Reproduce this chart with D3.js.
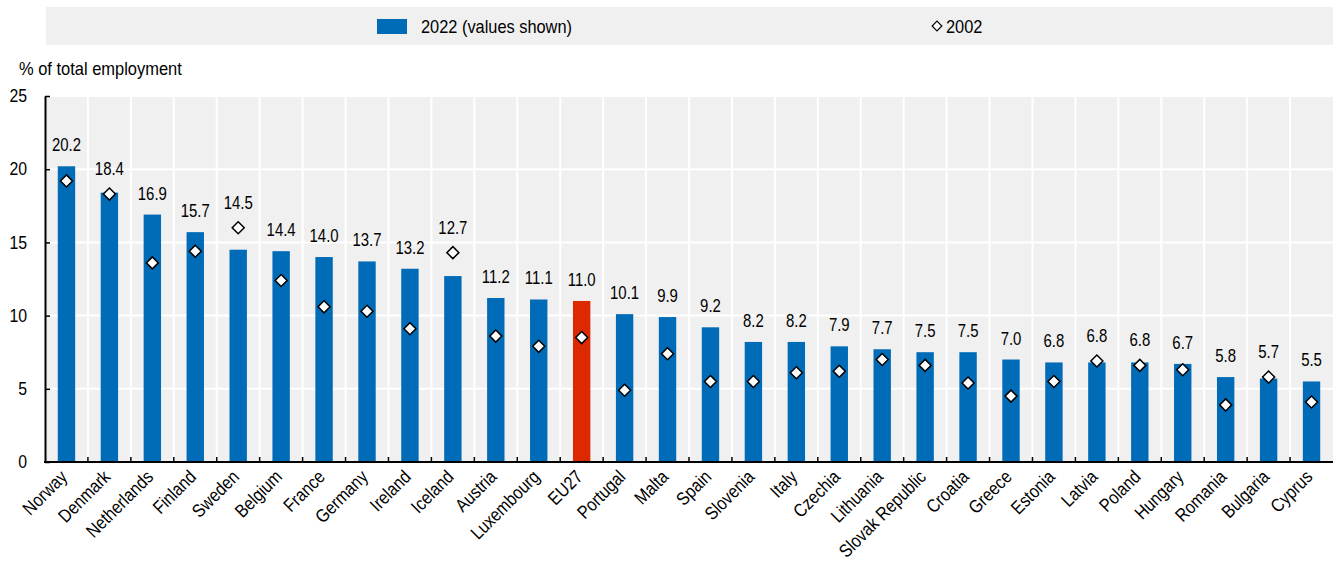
<!DOCTYPE html>
<html><head><meta charset="utf-8">
<script src="https://cdn.jsdelivr.net/npm/d3@7"></script>
<style>
body{margin:0;background:#fff;}
svg text{font-family:"Liberation Sans",Arial,sans-serif;fill:#000;}
</style></head>
<body>
<svg id="c" width="1338" height="562"></svg>
<script>
const countries = ["Norway","Denmark","Netherlands","Finland","Sweden","Belgium","France","Germany","Ireland","Iceland","Austria","Luxembourg","EU27","Portugal","Malta","Spain","Slovenia","Italy","Czechia","Lithuania","Slovak Republic","Croatia","Greece","Estonia","Latvia","Poland","Hungary","Romania","Bulgaria","Cyprus"];
const values2022 = [20.2,18.4,16.9,15.7,14.5,14.4,14.0,13.7,13.2,12.7,11.2,11.1,11.0,10.1,9.9,9.2,8.2,8.2,7.9,7.7,7.5,7.5,7.0,6.8,6.8,6.8,6.7,5.8,5.7,5.5];
const values2002 = [19.2,18.3,13.6,14.4,16.0,12.4,10.6,10.3,9.1,14.3,8.6,7.9,8.5,4.9,7.4,5.5,5.5,6.1,6.2,7.0,6.6,5.4,4.5,5.5,6.9,6.6,6.3,3.9,5.8,4.1];
const yTicks = [0,5,10,15,20,25];
const highlight = "EU27";
const legendLabels = ["2022 (values shown)","2002"];
const yTitle = "% of total employment";

const svg = d3.select("#c");
const L = 45, R = 1333, T = 96, B = 462;
const blue = "#006bb6", red = "#dc2900", bg = "#f0f0f0";

const x = d3.scaleBand().domain(countries).range([L, R]).padding(0);
const y = d3.scaleLinear().domain([0, 25]).range([B, T]);
const bw = x.bandwidth() * 0.405;

// texts drawn in a horizontally condensed face (reference uses a narrow sans)
function txt(g, tx, ty, s, fs, sx, anchor, rot) {
  return g.append("text")
    .attr("transform", `translate(${tx},${ty})${rot ? ` rotate(${rot})` : ""} scale(${sx},1)`)
    .attr("font-size", fs).attr("text-anchor", anchor || "start").text(s);
}

// legend
svg.append("rect").attr("x", 46).attr("y", 7).attr("width", R - 46).attr("height", 38).attr("fill", bg);
svg.append("rect").attr("x", 377).attr("y", 19).attr("width", 30).attr("height", 15).attr("fill", blue);
txt(svg, 421, 33, legendLabels[0], 18, 0.91);
svg.append("path").attr("d", d3.symbol(d3.symbolDiamond2, 60)()).attr("transform", "translate(937,26)")
  .attr("fill", "#fff").attr("stroke", "#000").attr("stroke-width", 1.2);
txt(svg, 946, 33, legendLabels[1], 18, 0.91);

// y title
txt(svg, 19, 75, yTitle, 18.5, 0.89);

// plot bg
svg.append("rect").attr("x", L).attr("y", T).attr("width", R - L).attr("height", B - T).attr("fill", bg);

// gridlines
svg.append("g").selectAll("line").data(yTicks.slice(1)).join("line")
  .attr("x1", L).attr("x2", R).attr("y1", d => y(d)).attr("y2", d => y(d))
  .attr("stroke", "#fff").attr("stroke-width", 2);
svg.append("g").selectAll("line").data(countries.slice(1)).join("line")
  .attr("x1", d => x(d)).attr("x2", d => x(d)).attr("y1", T).attr("y2", B)
  .attr("stroke", "#fff").attr("stroke-width", 2);

// bars
svg.append("g").selectAll("rect").data(countries).join("rect")
  .attr("x", d => x(d) + (x.bandwidth() - bw) / 2)
  .attr("width", bw)
  .attr("y", (d, i) => y(values2022[i]))
  .attr("height", (d, i) => B - y(values2022[i]))
  .attr("fill", d => d === highlight ? red : blue);

// diamonds
svg.append("g").selectAll("path").data(countries).join("path")
  .attr("d", d3.symbol(d3.symbolDiamond2, 92)())
  .attr("transform", (d, i) => `translate(${x(d) + x.bandwidth() / 2},${y(values2002[i])})`)
  .attr("fill", "#fff").attr("stroke", "#000").attr("stroke-width", 1.5);

// value labels
const vl = svg.append("g");
countries.forEach((d, i) => {
  txt(vl, x(d) + x.bandwidth() / 2, Math.min(y(values2022[i]), y(values2002[i]) - 4) - 15,
      d3.format(".1f")(values2022[i]), 18, 0.83, "middle");
});

// y axis
const ya = svg.append("g").attr("transform", `translate(${L},0)`)
  .call(d3.axisLeft(y).tickValues(yTicks).tickSizeInner(-5).tickSizeOuter(0).tickPadding(22).tickFormat(d3.format("d")));
ya.select(".domain").attr("stroke", "#000").attr("stroke-width", 2);
ya.selectAll(".tick line").attr("stroke", "#000").attr("stroke-width", 1.5);
ya.selectAll("text").attr("font-size", 18).attr("font-family", null)
  .attr("transform", "scale(0.88,1)").attr("x", -18 / 0.88);

// x axis
svg.append("g").selectAll("line").data(countries.slice(1)).join("line")
  .attr("x1", d => x(d)).attr("x2", d => x(d)).attr("y1", B).attr("y2", B - 5)
  .attr("stroke", "#000").attr("stroke-width", 1.5);
svg.append("line").attr("x1", L - 1).attr("x2", R).attr("y1", B).attr("y2", B)
  .attr("stroke", "#000").attr("stroke-width", 2);
const xl = svg.append("g");
countries.forEach(d => {
  txt(xl, x(d) + x.bandwidth() / 2 + 2, B + 16, d, 18.5, 0.86, "end", -45);
});
</script>
</body></html>
